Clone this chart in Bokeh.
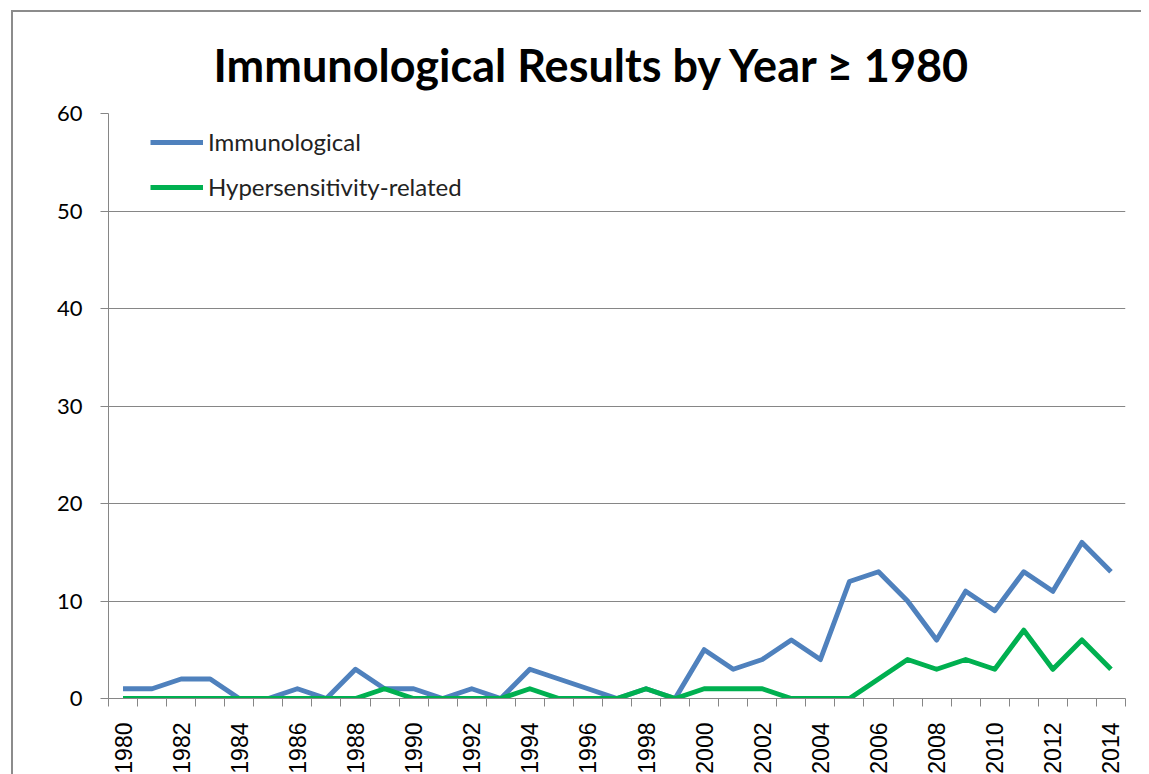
import math
from bokeh.plotting import figure
from bokeh.models import Range1d, FixedTicker, Legend, LegendItem, ColumnDataSource
from bokeh.embed import file_html
from bokeh.resources import INLINE

years = list(range(1980, 2015))
immunological = [1, 1, 2, 2, 0, 0, 1, 0, 3, 1, 1, 0, 1, 0, 3, 2, 1, 0, 1, 0,
                 5, 3, 4, 6, 4, 12, 13, 10, 6, 11, 9, 13, 11, 16, 13]
hypersensitivity = [0, 0, 0, 0, 0, 0, 0, 0, 0, 1, 0, 0, 0, 0, 1, 0, 0, 0, 1, 0,
                    1, 1, 1, 0, 0, 0, 2, 4, 3, 4, 3, 7, 3, 6, 3]
series_names = ["Immunological", "Hypersensitivity-related"]
title_text = "Immunological Results by Year \u2265 1980"
y_ticks = [0, 10, 20, 30, 40, 50, 60]
x_label_years = years[::2]

src = ColumnDataSource(dict(year=years, imm=immunological, hyp=hypersensitivity))

p = figure(output_backend="svg", toolbar_location=None,
           x_range=Range1d(years[0] - 0.5, years[-1] + 0.5), y_range=Range1d(0, 60),
           frame_width=1017, frame_height=585,
           min_border_left=108, min_border_right=16, min_border_top=113, min_border_bottom=56)
# thin grey chart-area border on the left and top edges (drawn behind a transparent canvas border)
p.styles = {"box-shadow": "inset 11px 10px 0px 0px #ffffff, inset 13px 12px 0px 0px #8c8c8c"}
p.outline_line_color = None
p.background_fill_color = "white"
p.border_fill_alpha = 0

p.title.text = title_text
p.title.text_font = "Lato"
p.title.text_font_style = "bold"
p.title.text_font_size = "45px"
p.title.align = "left"
p.title.offset = 105
p.title.standoff = 44
p.title.text_color = "black"

grid_gray = "#868686"

# x axis
p.xaxis.ticker = FixedTicker(ticks=x_label_years, minor_ticks=[y - 0.5 for y in years] + [years[-1] + 0.5])
p.xaxis.major_tick_out = 0
p.xaxis.major_tick_in = 0
p.xaxis.minor_tick_out = 8
p.xaxis.minor_tick_in = 0
p.xaxis.minor_tick_line_color = grid_gray
p.xaxis.axis_line_color = grid_gray
p.xaxis.major_label_orientation = math.pi / 2
p.xaxis.major_label_text_font = "Liberation Sans"
p.xaxis.major_label_text_font_size = "23px"
p.xaxis.major_label_text_color = "black"
p.xaxis.major_label_standoff = 16
p.xgrid.grid_line_color = None

# y axis
p.yaxis.ticker = FixedTicker(ticks=y_ticks)
p.yaxis.major_tick_out = 8
p.yaxis.major_tick_in = 0
p.yaxis.minor_tick_out = 0
p.yaxis.minor_tick_in = 0
p.yaxis.major_tick_line_color = grid_gray
p.yaxis.axis_line_color = grid_gray
p.yaxis.major_label_text_font = "Lato"
p.yaxis.major_label_text_font_size = "22px"
p.yaxis.major_label_text_color = "black"
p.yaxis.major_label_standoff = 18
p.ygrid.ticker = FixedTicker(ticks=y_ticks)
p.ygrid.grid_line_color = grid_gray
p.ygrid.grid_line_width = 1

r1 = p.line("year", "imm", source=src, line_color="#4F81BD", line_width=5, line_join="round")
r2 = p.line("year", "hyp", source=src, line_color="#00B050", line_width=5, line_join="round")

legend = Legend(items=[LegendItem(label=series_names[0], renderers=[r1]),
                       LegendItem(label=series_names[1], renderers=[r2])],
                location=(42, 497))
legend.padding = 0
legend.margin = 0
legend.border_line_color = None
legend.background_fill_alpha = 0
legend.glyph_width = 53
legend.glyph_height = 28
legend.label_height = 28
legend.spacing = 16
legend.label_standoff = 5
legend.label_text_font = "Lato"
legend.label_text_font_size = "24px"
legend.label_text_color = "#222222"
p.add_layout(legend, "center")

open("out.html", "w").write(file_html(p, INLINE))
